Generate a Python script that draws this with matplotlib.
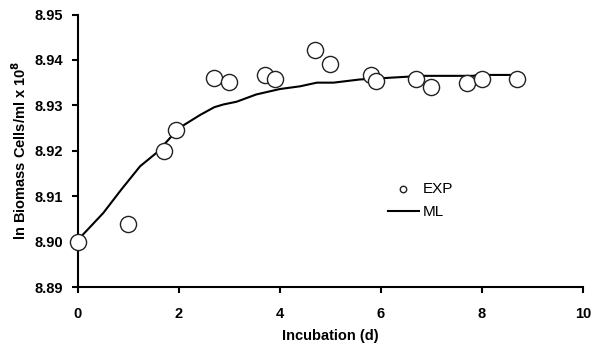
import matplotlib
matplotlib.use("Agg")
import matplotlib.pyplot as plt

plt.rcParams['font.family'] = ['Liberation Sans', 'DejaVu Sans']

# experimental points
exp_x = [0, 1.0, 1.7, 1.95, 2.7, 3.0, 3.7, 3.9, 4.7, 5.0, 5.8, 5.9, 6.7, 7.0, 7.7, 8.0, 8.7]
exp_y = [8.9000, 8.9039, 8.9200, 8.9246, 8.9361, 8.9351, 8.9366, 8.9357, 8.9422, 8.9390,
         8.9367, 8.9353, 8.9357, 8.9341, 8.9350, 8.9359, 8.9359]

# model line
ml_x = [0, 0.5, 0.86, 1.23, 1.56, 2.0, 2.42, 2.7, 2.88, 3.14, 3.53, 4.0, 4.4, 4.73, 5.06,
        5.58, 6.51, 6.87, 7.83, 7.9, 8.7]
ml_y = [8.9004, 8.9063, 8.9115, 8.9166, 8.9196, 8.9250, 8.9279, 8.9296, 8.9302, 8.9308,
        8.9324, 8.9336, 8.9342, 8.9350, 8.9350, 8.9357, 8.9363, 8.9365, 8.9365, 8.9367,
        8.9367]

fig = plt.figure(figsize=(5.94, 3.54), dpi=100)
ax = fig.add_axes([0.1313, 0.189, 0.850, 0.770])

ax.plot(ml_x, ml_y, color='black', lw=1.5, label='ML', zorder=2)
ax.scatter(exp_x, exp_y, s=135, facecolor='white', edgecolor='#222222', linewidth=1.0,
           label='EXP', zorder=3, clip_on=False)

ax.set_xlim(0, 10)
ax.set_ylim(8.89, 8.95)
ax.set_xticks([0, 2, 4, 6, 8, 10])
ax.set_yticks([8.89, 8.90, 8.91, 8.92, 8.93, 8.94, 8.95])
ax.set_yticklabels(['%.2f' % v for v in ax.get_yticks()])
for s in ['top', 'right']:
    ax.spines[s].set_visible(False)
for s in ['left', 'bottom']:
    ax.spines[s].set_linewidth(1.5)
ax.tick_params(direction='out', length=4, width=1.5, labelsize=10.5)
ax.tick_params(axis='y', pad=7)
ax.tick_params(axis='x', pad=10)
for lab in ax.get_xticklabels() + ax.get_yticklabels():
    lab.set_fontweight('bold')

ax.set_xlabel('Incubation (d)', fontsize=10.5, fontweight='bold', labelpad=6)
ax.set_ylabel(r'ln Biomass Cells/ml x 10$^{\mathbf{8}}$', fontsize=10.5, fontweight='bold',
              labelpad=4)

h, l = ax.get_legend_handles_labels()
leg = ax.legend([h[1], h[0]], [l[1], l[0]], loc='center left', bbox_to_anchor=(0.614, 0.317),
                frameon=False, fontsize=11, handlelength=2.0, handletextpad=0.3,
                labelspacing=0.55, markerscale=0.4, borderpad=0, borderaxespad=0)

fig.savefig('out.png', dpi=100)
